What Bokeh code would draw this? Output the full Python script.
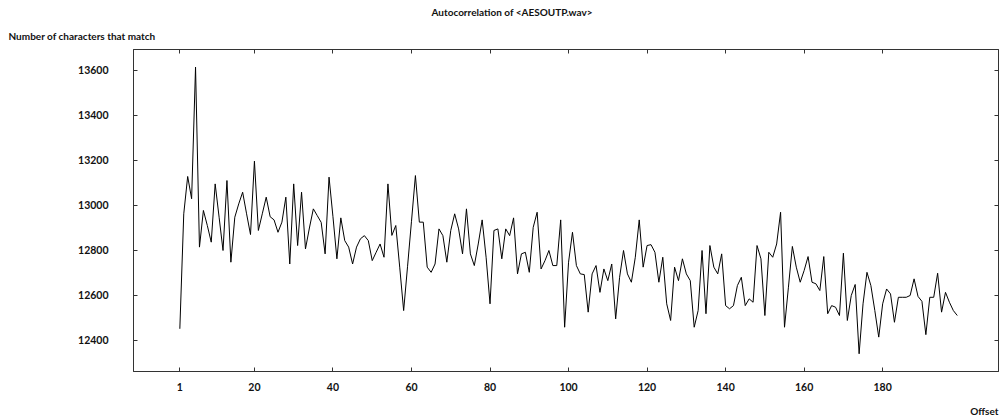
from bokeh.plotting import figure
from bokeh.models import Range1d, FixedTicker, LinearAxis, Title
from bokeh.embed import file_html
from bokeh.resources import INLINE

offsets = list(range(1, 200))
matches = [
    12452, 12963, 13129, 13030, 13615, 12815, 12978, 12911, 12837, 13096,
    12948, 12800, 13111, 12748, 12948, 13007, 13059, 12963, 12871, 13197,
    12889, 12963, 13037, 12950, 12936, 12881, 12926, 13037, 12740, 13096,
    12822, 13059, 12807, 12900, 12985, 12955, 12925, 12785, 13126, 12950,
    12763, 12945, 12844, 12815, 12740, 12815, 12852, 12866, 12844, 12755,
    12792, 12829, 12770, 13096, 12867, 12911, 12726, 12533, 12730, 12930,
    13133, 12926, 12926, 12726, 12703, 12740, 12896, 12866, 12748, 12889,
    12963, 12896, 12785, 12985, 12785, 12733, 12829, 12936, 12770, 12563,
    12889, 12896, 12763, 12896, 12866, 12945, 12696, 12785, 12792, 12703,
    12903, 12970, 12718, 12755, 12800, 12733, 12733, 12936, 12459, 12748,
    12881, 12733, 12696, 12693, 12526, 12696, 12733, 12614, 12718, 12666,
    12740, 12496, 12681, 12800, 12696, 12659, 12770, 12936, 12726, 12822,
    12826, 12792, 12659, 12770, 12563, 12489, 12726, 12666, 12763, 12696,
    12666, 12459, 12533, 12800, 12519, 12822, 12726, 12696, 12785, 12555,
    12541, 12555, 12644, 12681, 12555, 12585, 12570, 12822, 12763, 12511,
    12792, 12770, 12829, 12970, 12459, 12637, 12818, 12726, 12659, 12711,
    12773, 12659, 12652, 12622, 12773, 12519, 12555, 12548, 12511, 12788,
    12489, 12600, 12649, 12341, 12563, 12703, 12644, 12533, 12415, 12563,
    12629, 12607, 12481, 12592, 12592, 12592, 12600, 12674, 12596, 12574,
    12426, 12592, 12592, 12699, 12526, 12614, 12570, 12533, 12511,
]
x_ticks = [1, 20, 40, 60, 80, 100, 120, 140, 160, 180]
y_ticks = [12400, 12600, 12800, 13000, 13200, 13400, 13600]

title_text = "Autocorrelation of <AESOUTP.wav>"
y_label_text = "Number of characters that match"
x_label_text = "Offset"

FONT = "Lato"
AX = "#333333"
TXT = "#111111"

p = figure(width=999, height=416, output_backend="svg", toolbar_location=None,
           x_range=Range1d(-10.8, 209.5), y_range=Range1d(12262.2, 13693.3),
           min_border_left=133, min_border_right=1, min_border_top=49,
           min_border_bottom=45, x_axis_location=None, y_axis_location=None)
p.grid.visible = False
p.outline_line_color = AX
p.background_fill_color = "white"
p.border_fill_color = "white"


def style_axis(ax, show_labels=True, standoff=10):
    ax.axis_line_color = AX
    ax.major_tick_line_color = AX
    ax.major_tick_in = 4
    ax.major_tick_out = 0
    ax.minor_tick_line_color = None
    ax.major_label_text_font = FONT
    ax.major_label_text_font_style = "bold"
    ax.major_label_text_font_size = "10.5px"
    ax.major_label_text_color = TXT if show_labels else None
    ax.major_label_standoff = standoff if show_labels else 0


bottom = LinearAxis(ticker=FixedTicker(ticks=x_ticks))
style_axis(bottom, True, 11)
p.add_layout(bottom, "below")

left = LinearAxis(ticker=FixedTicker(ticks=y_ticks))
style_axis(left, True, 25)
p.add_layout(left, "left")

top = LinearAxis(ticker=FixedTicker(ticks=x_ticks))
style_axis(top, False)
p.add_layout(top, "above")

right = LinearAxis(ticker=FixedTicker(ticks=y_ticks))
style_axis(right, False)
p.add_layout(right, "right")

p.line(offsets, matches, line_color="black", line_width=1)

tstyle = dict(text_font=FONT, text_font_style="bold", text_font_size="10px",
              text_color=TXT)
y_title = Title(text=y_label_text, align="left", offset=-125, standoff=15, **tstyle)
p.add_layout(y_title, "above")
main_title = Title(text=title_text, align="left", offset=298, standoff=6, **tstyle)
p.add_layout(main_title, "above")
spacer = Title(text=" ", align="right", standoff=0, text_font=FONT,
               text_font_style="bold", text_font_size="6px", text_color=TXT)
p.add_layout(spacer, "below")
x_title = Title(text=x_label_text, align="right", offset=0, standoff=0, **tstyle)
p.add_layout(x_title, "below")

open("out.html", "w").write(file_html(p, INLINE))
